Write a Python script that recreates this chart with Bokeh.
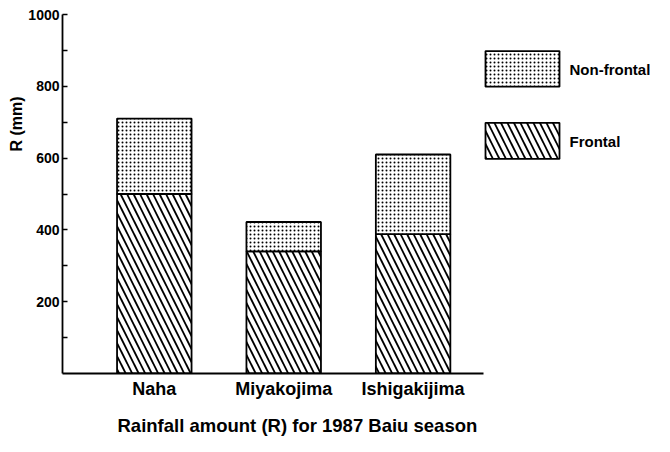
from bokeh.plotting import figure
from bokeh.models import FixedTicker, BoxAnnotation, Label, Range1d, Title
from bokeh.embed import file_html
from bokeh.resources import INLINE

# ---- data ----
stations = ["Naha", "Miyakojima", "Ishigakijima"]
frontal = [500, 340, 388]
non_frontal = [210, 82, 222]
y_ticks = [200, 400, 600, 800, 1000]
y_minor = [100, 300, 500, 700, 900]
legend_labels = ["Non-frontal", "Frontal"]
x_title = "Rainfall amount (R) for 1987 Baiu season"
y_title = "R (mm)"

# ---- geometry (canvas pixels) ----
W, H = 654, 436
FL, FT, FBOT = 62, 14, 377
FB = H - FBOT
PX_PER_X = 129.4
X0 = -(153.8 - FL) / PX_PER_X
X1 = X0 + (W - FL) / PX_PER_X
AXIS_END = X0 + (483 - FL) / PX_PER_X

def dx(cx):
    return X0 + (cx - FL) / PX_PER_X

def dy(cy):
    return (FBOT - cy) * 1000.0 / (FBOT - FT)

FONT = "Liberation Sans"

xs = list(range(len(stations)))
totals = [f + n for f, n in zip(frontal, non_frontal)]

p = figure(width=W, height=H, output_backend="svg", toolbar_location=None,
           x_range=Range1d(X0, X1), y_range=Range1d(0, 1000),
           min_border_left=FL, min_border_top=FT, min_border_bottom=FB,
           min_border_right=0)
p.outline_line_color = None
p.xgrid.visible = False
p.ygrid.visible = False
p.background_fill_color = "white"
p.border_fill_color = "white"

BW = 74.5 / PX_PER_X
DIAG = dict(hatch_pattern="\\", hatch_color="black", hatch_weight=1.8, hatch_scale=13)
DOTS = dict(hatch_pattern=".", hatch_color="black", hatch_weight=2.0, hatch_scale=4)
p.vbar(x=xs, width=BW, bottom=0, top=frontal, fill_color="white",
       line_color="black", line_width=1.8, **DIAG)
p.vbar(x=xs, width=BW, bottom=frontal, top=totals, fill_color="white",
       line_color="black", line_width=1.8, **DOTS)

# axes
ya = p.yaxis[0]
ya.ticker = FixedTicker(ticks=y_ticks, minor_ticks=y_minor)
ya.bounds = (0, 1000)
ya.axis_line_width = 1.8
ya.major_tick_in = 5
ya.major_tick_out = 0
ya.minor_tick_in = 5
ya.minor_tick_out = 0
ya.major_tick_line_width = 1.5
ya.minor_tick_line_width = 1.5
ya.major_label_standoff = 3
ya.major_label_text_font = FONT
ya.major_label_text_font_style = "bold"
ya.major_label_text_font_size = "14px"
ya.major_label_text_color = "black"

xa = p.xaxis[0]
xa.ticker = FixedTicker(ticks=xs)
xa.major_label_overrides = {i: s for i, s in zip(xs, stations)}
xa.bounds = (X0, AXIS_END)
xa.axis_line_width = 1.8
xa.major_tick_in = 0
xa.major_tick_out = 0
xa.minor_tick_in = 0
xa.minor_tick_out = 0
xa.major_label_standoff = 5
xa.major_label_text_font = FONT
xa.major_label_text_font_style = "bold"
xa.major_label_text_font_size = "18px"
xa.major_label_text_color = "black"
# small spacer between category labels and the bottom title
xa.axis_label = " "
xa.axis_label_text_font_size = "1px"
xa.axis_label_standoff = 6

# legend (boxes + labels)
boxes = [(51, 87, DOTS), (123.5, 160, DIAG)]
text_y = [69.5, 142]
for (t, b, hatch), lab, ty in zip(boxes, legend_labels, text_y):
    p.add_layout(BoxAnnotation(left=dx(485), right=dx(559), top=dy(t), bottom=dy(b),
                               fill_color="white", fill_alpha=1.0,
                               line_color="black", line_width=1.8, line_alpha=1.0,
                               **hatch))
    p.add_layout(Label(x=dx(569), y=dy(ty), text=lab, text_font=FONT,
                       text_font_style="bold", text_font_size="15px",
                       text_align="left", text_baseline="middle", text_color="black"))

# axis titles as side-panel titles
p.add_layout(Title(text=x_title, align="left", offset=117 - FL,
                   text_font=FONT, text_font_style="bold", text_font_size="18.5px",
                   text_color="black", standoff=2), "below")
p.add_layout(Title(text=y_title, align="right", offset=96 - FT,
                   text_font=FONT, text_font_style="bold", text_font_size="16px",
                   text_color="black", standoff=2), "left")

open("out.html", "w").write(file_html(p, INLINE))
